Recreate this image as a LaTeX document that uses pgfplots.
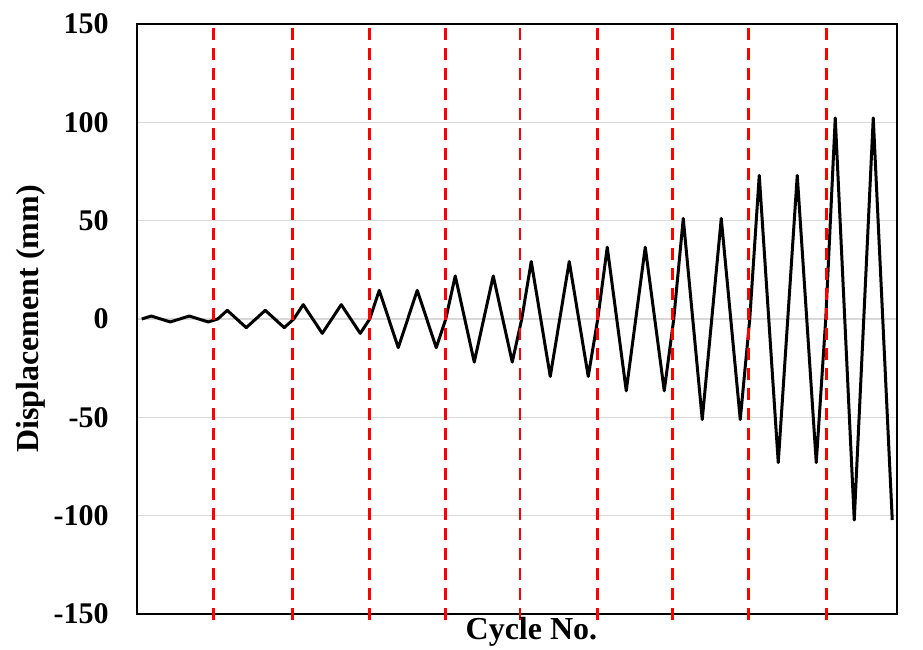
\documentclass[border=0pt]{standalone}
\usepackage{fontspec}
\setmainfont{Liberation Serif}
\usepackage{pgfplots}
\pgfplotsset{compat=1.18}
\definecolor{gridgray}{HTML}{D9D9D9}
\pgfplotstableread{
x y
1 0
2 1.5
3 0
4 -1.5
5 0
6 1.5
7 0
8 -1.5
9 0
10 4.4
11 0
12 -4.4
13 0
14 4.4
15 0
16 -4.4
17 0
18 7.3
19 0
20 -7.3
21 0
22 7.3
23 0
24 -7.3
25 0
26 14.6
27 0
28 -14.6
29 0
30 14.6
31 0
32 -14.6
33 0
34 21.9
35 0
36 -21.9
37 0
38 21.9
39 0
40 -21.9
41 0
42 29.2
43 0
44 -29.2
45 0
46 29.2
47 0
48 -29.2
49 0
50 36.5
51 0
52 -36.5
53 0
54 36.5
55 0
56 -36.5
57 0
58 51.1
59 0
60 -51.1
61 0
62 51.1
63 0
64 -51.1
65 0
66 73.0
67 0
68 -73.0
69 0
70 73.0
71 0
72 -73.0
73 0
74 102.2
75 0
76 -102.2
77 0
78 102.2
79 0
80 -102.2
}\disp
\begin{document}
\begin{tikzpicture}
\useasboundingbox (-102.75pt,-26.25pt) rectangle (589.5pt,460.5pt);
\begin{axis}[
  at={(0pt,0pt)}, anchor=south west,
  scale only axis, width=570pt, height=442.5pt,
  xmin=0.5, xmax=80.5, ymin=-150, ymax=150,
  xtick=\empty,
  ytick={-150,-100,-50,0,50,100,150},
  yticklabels={-150,-100,-50,0,50,100,150},
  major tick length=0pt,
  ymajorgrids, grid style={color=gridgray, line width=1.1pt},
  axis line style={line width=1.75pt},
  yticklabel style={font=\fontsize{22.5}{27}\selectfont\bfseries, anchor=east, inner sep=0pt, xshift=-21pt},
  ylabel={Displacement (mm)}, xlabel={Cycle No.},
  label style={font=\fontsize{24}{29}\selectfont\bfseries},
  ylabel style={at={(axis description cs:-0.1395,0.5)}, anchor=center},
  xlabel style={at={(axis description cs:0.519,-0.0424)}, anchor=base},
  clip=false,
]
\addplot[black, line width=2.25pt, line join=round, mark=none] table[x=x,y=y] {\disp};
\addplot[red, line width=2pt, dash pattern=on 9pt off 6pt] coordinates {(8.53,147.97) (8.53,-154.07)};
\addplot[red, line width=2pt, dash pattern=on 9pt off 6pt] coordinates {(16.85,147.97) (16.85,-154.07)};
\addplot[red, line width=2pt, dash pattern=on 9pt off 6pt] coordinates {(24.95,147.97) (24.95,-154.07)};
\addplot[red, line width=2pt, dash pattern=on 9pt off 6pt] coordinates {(32.95,147.97) (32.95,-154.07)};
\addplot[red, line width=2pt, dash pattern=on 9pt off 6pt] coordinates {(40.82,147.97) (40.82,-154.07)};
\addplot[red, line width=2pt, dash pattern=on 9pt off 6pt] coordinates {(48.95,147.97) (48.95,-154.07)};
\addplot[red, line width=2pt, dash pattern=on 9pt off 6pt] coordinates {(56.85,147.97) (56.85,-154.07)};
\addplot[red, line width=2pt, dash pattern=on 9pt off 6pt] coordinates {(64.85,147.97) (64.85,-154.07)};
\addplot[red, line width=2pt, dash pattern=on 9pt off 6pt] coordinates {(73.06,147.97) (73.06,-154.07)};
\end{axis}
\end{tikzpicture}
\end{document}
